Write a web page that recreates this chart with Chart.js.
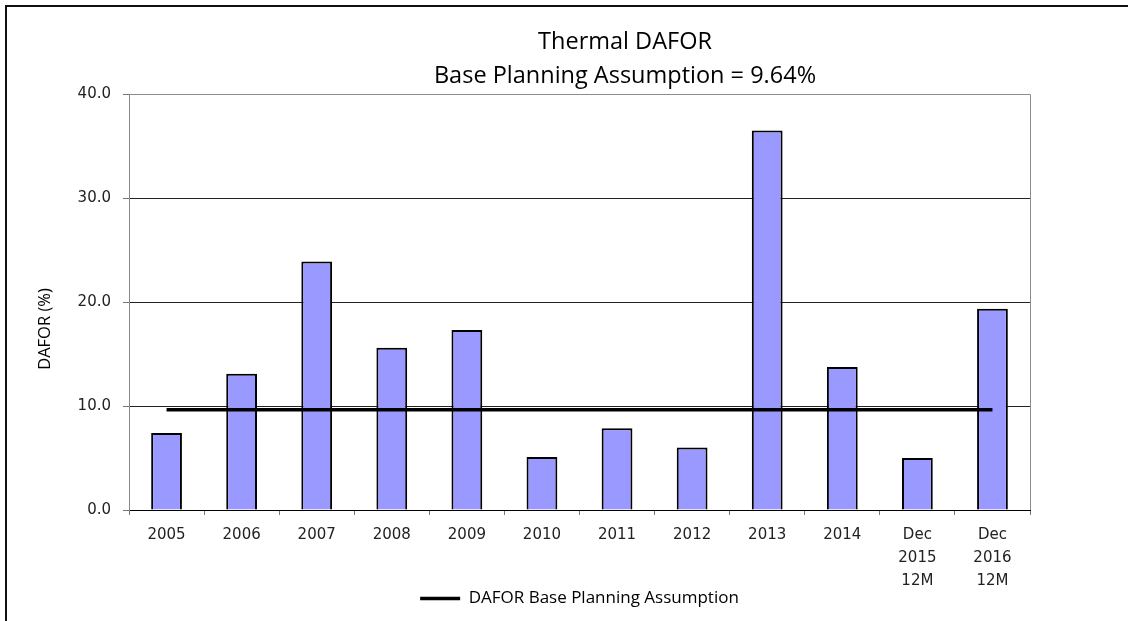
<!DOCTYPE html>
<html>
<head>
<meta charset="utf-8">
<script src="https://cdn.jsdelivr.net/npm/chart.js@4"></script>
<style>
  body { margin: 0; background: #fff; overflow: hidden; }
  #frame { position: absolute; left: 5px; top: 5px; width: 1200px; height: 700px; border-left: 2px solid #111; border-top: 2px solid #111; pointer-events: none; }
  canvas { position: absolute; left: 0; top: 0; }
</style>
</head>
<body>
<canvas id="daforChart" width="1128" height="621"></canvas>
<div id="frame"></div>
<script>
const daforChart = document.getElementById("daforChart");

// Data
const years = ["2005", "2006", "2007", "2008", "2009", "2010", "2011", "2012", "2013", "2014", ["Dec", "2015", "12M"], ["Dec", "2016", "12M"]];
const dafor = [7.4, 13.1, 23.9, 15.6, 17.3, 5.1, 7.85, 6.0, 36.5, 13.75, 5.0, 19.35];
const basePlanning = [9.64, 9.64, 9.64, 9.64, 9.64, 9.64, 9.64, 9.64, 9.64, 9.64, 9.64, 9.64];
const titleLines = ["Thermal DAFOR", "Base Planning Assumption = 9.64%"];
const yTitle = "DAFOR (%)";

// two line title and y title, placed like the original
const titlePlugin = {
  id: "twoLineTitle",
  afterDraw(chart) {
    const ctx = chart.ctx;
    ctx.save();
    ctx.fillStyle = "#000";
    ctx.font = "23.5px 'Open Sans'";
    ctx.textAlign = "center";
    ctx.textBaseline = "middle";
    ctx.fillText(titleLines[0], 625, 42);
    ctx.fillText(titleLines[1], 625, 76);
    ctx.font = "16.5px 'Open Sans'";
    ctx.translate(45, 329);
    ctx.rotate(-Math.PI / 2);
    ctx.fillText(yTitle, 0, 0);
    ctx.restore();
  },
};

// gray frame round the plot area
const plotBorder = {
  id: "plotBorder",
  beforeDatasetsDraw(chart) {
    const { ctx, chartArea } = chart;
    ctx.save();
    ctx.strokeStyle = "#8c8c8c";
    ctx.lineWidth = 1;
    ctx.beginPath();
    ctx.moveTo(chartArea.left, chartArea.top + 0.5);
    ctx.lineTo(chartArea.right + 0.5, chartArea.top + 0.5);
    ctx.lineTo(chartArea.right + 0.5, chartArea.bottom);
    ctx.stroke();
    ctx.restore();
  },
};

const dataDafor = {
  labels: years,
  datasets: [
    {
      type: "line",
      label: "DAFOR Base Planning Assumption",
      data: basePlanning,
      borderColor: "#000",
      backgroundColor: "#000",
      borderWidth: 3.5,
      pointRadius: 0,
      pointStyle: "line",
      order: 0,
    },
    {
      type: "bar",
      label: "DAFOR",
      data: dafor,
      backgroundColor: "#9999ff",
      borderColor: "#000",
      borderWidth: 2,
      categoryPercentage: 1,
      barPercentage: 0.41,
      order: 1,
    },
  ],
};

const configDafor = {
  data: dataDafor,
  options: {
    responsive: false,
    animation: false,
    layout: { padding: { left: 0, right: 98, top: 94, bottom: 4 } },
    plugins: {
      title: { display: false },
      tooltip: { enabled: false },
      legend: {
        position: "bottom",
        fullSize: false,
        labels: {
          filter: (item) => item.text !== "DAFOR",
          usePointStyle: true,
          pointStyleWidth: 40,
          color: "#000",
          padding: 0,
          font: { family: "'Open Sans'", size: 17 },
        },
      },
    },
    scales: {
      x: {
        afterFit: (axis) => { axis.height = 80; },
        grid: {
          offset: true,
          drawOnChartArea: false,
          tickLength: 5,
          color: "#777",
        },
        border: { color: "#000", width: 1 },
        ticks: {
          color: "#222",
          padding: 8,
          maxRotation: 0,
          font: { family: "'DejaVu Sans'", size: 15, lineHeight: 1.55 },
        },
      },
      y: {
        min: 0,
        max: 40,
        afterFit: (axis) => { axis.width = 129; },
        border: { color: "#888", width: 1 },
        grid: {
          color: (c) => (c.tick && c.tick.value === 40 ? "#8c8c8c" : "#222"),
          tickColor: "#777",
          tickLength: 6,
        },
        ticks: {
          stepSize: 10,
          color: "#222",
          padding: 12,
          font: { family: "'DejaVu Sans'", size: 15 },
          callback: (v) => v.toFixed(1),
        },
      },
    },
  },
  plugins: [titlePlugin, plotBorder],
};

new Chart(daforChart, configDafor);
</script>
</body>
</html>
